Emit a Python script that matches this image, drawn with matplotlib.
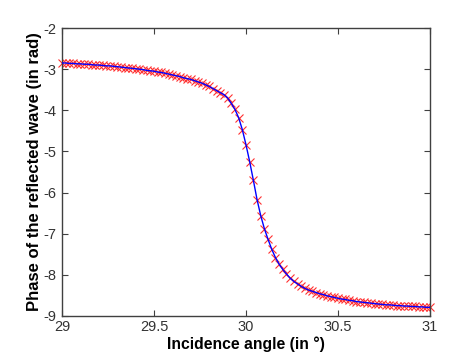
import numpy as np
import matplotlib
matplotlib.use('Agg')
import matplotlib.pyplot as plt

plt.rcParams['font.family'] = ['Liberation Sans', 'DejaVu Sans']
plt.rcParams['axes.unicode_minus'] = False

# incidence angle (deg), step 0.02
angle = [29.00, 29.02, 29.04, 29.06, 29.08, 29.10, 29.12, 29.14, 29.16, 29.18,
         29.20, 29.22, 29.24, 29.26, 29.28, 29.30, 29.32, 29.34, 29.36, 29.38,
         29.40, 29.42, 29.44, 29.46, 29.48, 29.50, 29.52, 29.54, 29.56, 29.58,
         29.60, 29.62, 29.64, 29.66, 29.68, 29.70, 29.72, 29.74, 29.76, 29.78,
         29.80, 29.82, 29.84, 29.86, 29.88, 29.90, 29.92, 29.94, 29.96, 29.98,
         30.00, 30.02, 30.04, 30.06, 30.08, 30.10, 30.12, 30.14, 30.16, 30.18,
         30.20, 30.22, 30.24, 30.26, 30.28, 30.30, 30.32, 30.34, 30.36, 30.38,
         30.40, 30.42, 30.44, 30.46, 30.48, 30.50, 30.52, 30.54, 30.56, 30.58,
         30.60, 30.62, 30.64, 30.66, 30.68, 30.70, 30.72, 30.74, 30.76, 30.78,
         30.80, 30.82, 30.84, 30.86, 30.88, 30.90, 30.92, 30.94, 30.96, 30.98,
         31.00]

# phase of the reflected wave (rad)
phase = [-2.85, -2.85, -2.86, -2.86, -2.87, -2.87, -2.88, -2.88, -2.89, -2.90,
         -2.90, -2.91, -2.92, -2.92, -2.93, -2.94, -2.95, -2.96, -2.97, -2.98,
         -2.99, -3.00, -3.01, -3.03, -3.04, -3.05, -3.07, -3.08, -3.10, -3.12,
         -3.14, -3.16, -3.18, -3.21, -3.23, -3.25, -3.28, -3.31, -3.34, -3.38,
         -3.42, -3.47, -3.52, -3.57, -3.62, -3.70, -3.83, -3.98, -4.18, -4.47,
         -4.84, -5.25, -5.70, -6.17, -6.56, -6.88, -7.14, -7.38, -7.58, -7.74,
         -7.87, -7.98, -8.08, -8.16, -8.22, -8.28, -8.33, -8.37, -8.40, -8.43,
         -8.46, -8.48, -8.51, -8.53, -8.55, -8.57, -8.59, -8.60, -8.62, -8.63,
         -8.65, -8.66, -8.67, -8.68, -8.69, -8.70, -8.71, -8.72, -8.73, -8.73,
         -8.74, -8.75, -8.75, -8.76, -8.76, -8.77, -8.77, -8.78, -8.78, -8.79,
         -8.79]

xticks = [29, 29.5, 30, 30.5, 31]
xticklabels = ['29', '29.5', '30', '30.5', '31']
yticks = [-9, -8, -7, -6, -5, -4, -3, -2]

fig = plt.figure(figsize=(4.74, 3.55), dpi=100)
ax = fig.add_axes([0.131, 0.110, 0.776, 0.811])

ax.plot(angle, phase, 'x', color='#ff3030', ms=6, mew=0.8, clip_on=False, zorder=2)
ax.plot(angle, phase, '-', color='#0000ff', lw=1.0, zorder=3)

ax.set_xlim(29, 31)
ax.set_ylim(-9, -2)
ax.set_xticks(xticks)
ax.set_xticklabels(xticklabels)
ax.set_yticks(yticks)

ax.tick_params(direction='in', top=True, right=True, length=4, width=0.8,
               labelsize=10.5, colors='#404040', labelcolor='#333333')
ax.tick_params(axis='x', pad=3)
ax.tick_params(axis='y', pad=4)
for s in ax.spines.values():
    s.set_color('#404040')
    s.set_linewidth(1.0)

ax.set_xlabel('Incidence angle (in °)', fontsize=11.3, fontweight='bold', labelpad=2)
ax.set_ylabel('Phase of the reflected wave (in rad)', fontsize=12, fontweight='bold', labelpad=1)

fig.savefig('out.png', dpi=100)
